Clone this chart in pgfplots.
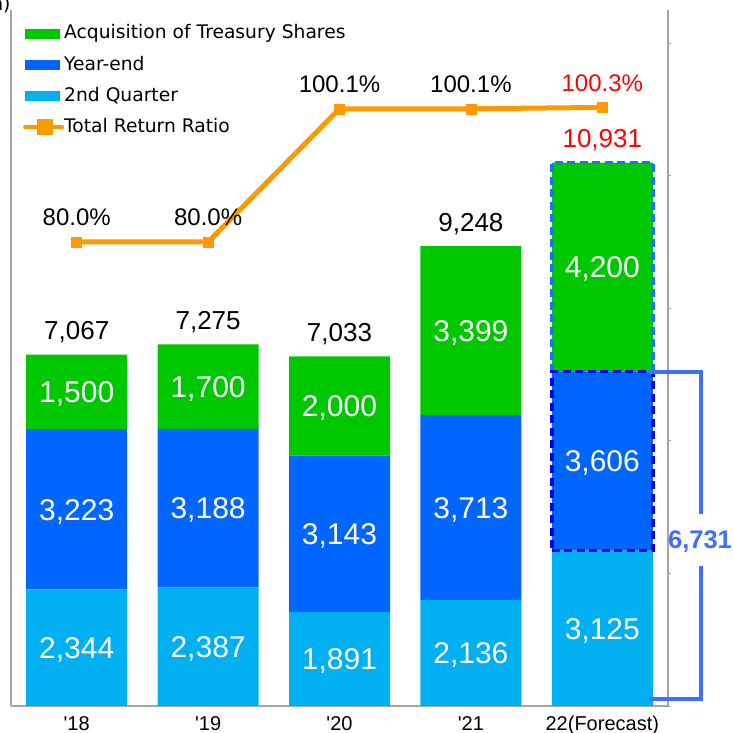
\documentclass[border=0pt]{standalone}
\usepackage{pgfplots}
\pgfplotsset{compat=1.18}
\usepackage{fontspec}
\setmainfont{Liberation Sans}[Ligatures=TeXOff]
\newfontfamily\legfont{DejaVu Sans}

\definecolor{acqgreen}{RGB}{0,200,0}
\definecolor{yeblue}{RGB}{0,102,255}
\definecolor{qcyan}{RGB}{0,176,240}
\definecolor{retorange}{RGB}{255,153,0}
\definecolor{brblue}{RGB}{64,110,255}
\definecolor{dashlight}{RGB}{20,120,255}
\definecolor{dashdark}{RGB}{0,0,230}
\definecolor{axisgray}{RGB}{165,165,165}

\pgfplotsset{
  frame/.style={
    at={(11pt,27pt)}, anchor=south west,
    scale only axis, width=657pt, height=696pt,
    xmin=-0.5, xmax=4.5, clip=false,
  },
  % stacked labels sit at the segment middle already
  seglabel/.style={
    nodes near coords={\pgfmathprintnumber{\rawy}},
    visualization depends on={rawy \as \rawy},
    every node near coord/.append style={
      anchor=base, text=white, font=\fontsize{30}{34}\selectfont,
      yshift=-10.7pt},
  },
}

\begin{document}
\begin{tikzpicture}
\useasboundingbox (0pt,0pt) rectangle (733pt,733pt);

% stacked bars
\begin{axis}[frame, ymin=0, ymax=14000,
  ybar stacked, bar width=101pt,
  axis x line*=bottom, axis y line*=left,
  axis line style={axisgray, line width=1.5pt, -},
  ytick=\empty,
  xtick={0,...,4},
  xticklabels={'18,'19,'20,'21,22(Forecast)},
  major tick length=0pt,
  xticklabel style={anchor=base, yshift=-24.5pt, font=\fontsize{20}{24}\selectfont},
  /pgf/number format/.cd, fixed, 1000 sep={,}, assume math mode=true,
]
\addplot[fill=qcyan, draw=none, seglabel] coordinates {(0,2344) (1,2387) (2,1891) (3,2136) (4,3125)};
\addplot[fill=yeblue, draw=none, seglabel] coordinates {(0,3223) (1,3188) (2,3143) (3,3713) (4,3606)};
\addplot[fill=acqgreen, draw=none, seglabel] coordinates {(0,1500) (1,1700) (2,2000) (3,3399) (4,4200)};
\end{axis}

% forecast outline
\begin{axis}[frame, ymin=0, ymax=14000, ybar stacked, bar width=101pt, hide axis]
\addplot[draw=none, fill=none] coordinates {(4,3125)};
\addplot[draw=dashdark, fill=none, line width=3.5pt, dash pattern=on 8pt off 4.5pt] coordinates {(4,3606)};
\addplot[draw=dashlight, fill=none, line width=3.5pt, dash pattern=on 8pt off 4.5pt] coordinates {(4,4200)};
\end{axis}

% totals
\begin{axis}[frame, ymin=0, ymax=14000, hide axis]
\addplot[draw=none, mark=none, nodes near coords, point meta=explicit symbolic,
  every node near coord/.append style={anchor=base, yshift=15pt, text=black,
    font=\fontsize{26}{30}\selectfont}]
  coordinates {(0,7067) [7,067] (1,7275) [7,275] (2,7033) [7,033] (3,9248) [9,248]
               (4,10931) [\textcolor{red}{10,931}]};
\end{axis}

% total return ratio
\begin{axis}[frame, ymin=10, ymax=115,
  axis x line=none, axis y line*=right,
  axis line style={axisgray, line width=1.5pt, -},
  ytick={10,30,...,110}, yticklabels={,,,,,},
  tick style={axisgray, line width=0.8pt}, major tick length=3pt, tick align=outside,
  legend style={at={(0,1)}, anchor=north west, xshift=12pt, yshift=-15pt,
    draw=none, fill=none, inner sep=0pt, row sep=14pt, column sep=0pt,
    font=\legfont\fontsize{18.7}{22}\selectfont,
    nodes={inner sep=0pt, text height=13.7pt, text depth=3.5pt}},
  legend cell align=left,
]
\addlegendimage{legend image code/.code={\fill[acqgreen] (0pt,-4.5pt) rectangle (34pt,4.5pt);}}
\addlegendentry{Acquisition of Treasury Shares}
\addlegendimage{legend image code/.code={\fill[yeblue] (0pt,-4.5pt) rectangle (34pt,4.5pt);}}
\addlegendentry{Year-end}
\addlegendimage{legend image code/.code={\fill[qcyan] (0pt,-4.5pt) rectangle (34pt,4.5pt);}}
\addlegendentry{2nd Quarter}
\addplot[retorange, line width=5pt, mark=square*, mark size=5pt,
  mark options={solid, line width=0.5pt},
  legend image code/.code={
    \draw[retorange, line width=4pt, line cap=round] (0pt,0pt) -- (37pt,0pt);
    \fill[retorange] (14pt,-5.5pt) rectangle (25pt,5.5pt);},
  nodes near coords, point meta=explicit symbolic,
  every node near coord/.append style={anchor=base, yshift=16pt, text=black,
    font=\fontsize{24}{28}\selectfont}]
  coordinates {(0,80.0) [80.0\%] (1,80.0) [80.0\%] (2,100.1) [100.1\%]
               (3,100.1) [100.1\%] (4,100.3) [\textcolor{red}{100.3\%}]};
\addlegendentry{Total Return Ratio}
\end{axis}

% bracket for first and year-end forecast
\draw[brblue, line width=4.5pt] (649pt,361pt) -- (701pt,361pt) -- (701pt,219pt);
\draw[brblue, line width=4.5pt] (701pt,167pt) -- (701pt,34pt) -- (649pt,34pt);
\node[text=brblue, font=\bfseries\fontsize{25.5}{30}\selectfont] at (700pt,191pt) {6,731};

\node[anchor=base east, font=\legfont\fontsize{18.7}{22}\selectfont] at (14pt,722pt) {n)};
\end{tikzpicture}
\end{document}
